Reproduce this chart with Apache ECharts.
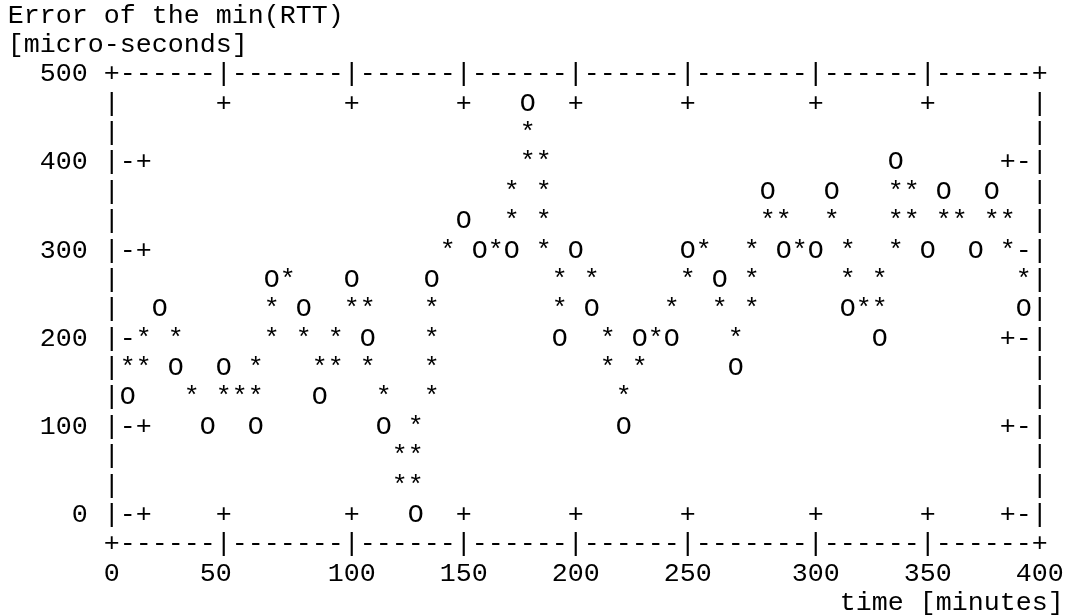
<!DOCTYPE html>
<html>
<head>
<meta charset="utf-8">
<title>Error of the min(RTT)</title>
<script src="https://cdn.jsdelivr.net/npm/echarts@6/dist/echarts.min.js"></script>
<style>
  html, body { margin: 0; padding: 0; background: #fff; }
  #chart { width: 1065px; height: 616px; }
</style>
</head>
<body>
<div id="chart"></div>
<script>
// sample times [minutes]
var times = [10, 20, 30, 40, 50, 60, 70, 80, 90, 100, 110, 120, 130, 140, 150, 160, 170, 180, 190, 200,
             210, 220, 230, 240, 250, 260, 270, 280, 290, 300, 310, 320, 330, 340, 350, 360, 370, 380, 390];
// error of the min(RTT) at each sample [micro-seconds]  ('O' marks)
var rttError = [133, 233, 167, 100, 167, 100, 267, 233, 133, 267, 200, 100, 0, 267, 333, 300, 300, 467, 200, 300,
                233, 100, 200, 200, 300, 267, 167, 367, 300, 300, 367, 233, 200, 400, 300, 367, 300, 367, 233];
// '*' characters of the connecting line [minutes, micro-seconds]
var lineMarks = [
  [7, 167], [14, 167], [14, 200], [28, 200], [34, 133], [48, 133], [55, 133], [62, 133], [62, 167],
  [69, 200], [69, 233], [76, 267], [83, 200], [90, 167], [97, 167], [97, 200], [103, 233], [110, 233],
  [110, 167], [117, 133], [124, 67], [124, 33], [131, 33], [131, 67], [131, 100], [138, 133], [138, 167],
  [138, 200], [138, 233], [145, 300], [166, 300], [172, 333], [172, 367], [179, 400], [179, 433],
  [186, 400], [186, 367], [186, 333], [186, 300], [193, 267], [193, 233], [207, 267], [214, 200],
  [214, 167], [221, 133], [228, 167], [234, 200], [241, 233], [248, 267], [255, 300], [262, 233],
  [269, 200], [276, 233], [276, 267], [276, 300], [283, 333], [290, 333], [297, 300], [310, 333],
  [317, 300], [317, 267], [324, 233], [331, 233], [331, 267], [338, 300], [338, 333], [338, 367],
  [345, 367], [345, 333], [359, 333], [366, 333], [379, 333], [386, 333], [386, 300], [393, 267]
];
// ticks
var xTicks = [0, 50, 100, 150, 200, 250, 300, 350, 400];
var xTickLabels = ['0', '50', '100', '150', '200', '250', '300', '350', '400'];
var yTicks = [0, 100, 200, 300, 400, 500];
var yTickLabels = ['0', '100', '200', '300', '400', '500'];

var yTitle = ['Error of the min(RTT)', '[micro-seconds]'];
var xTitle = 'time [minutes]';

// text terminal look: everything sits on a grid of character cells
var COLS = 58, ROWS = 16;
var CELL_W = 16, CELL_H = 29.37;
var GRID_LEFT = 111.7, GRID_TOP = 74.3;
var FONT_SIZE = 26.67;
var FONT_FAMILY = '"Liberation Mono", "Courier New", monospace';
var FONT = FONT_SIZE + 'px ' + FONT_FAMILY;
var INK = '#000';

var xMax = 400, yMax = 500;
// the bottom border is one text row below 0
var yMin = yMax - ROWS * 100 / 3;

// x ticks land on whole character columns, like the text terminal
function snapX(v) { return Math.round(v * COLS / xMax) * xMax / COLS; }

function nearest(list, v) {
  var best = 0;
  for (var i = 1; i < list.length; i++) {
    if (Math.abs(list[i] - v) < Math.abs(list[best] - v)) best = i;
  }
  return best;
}

function toCell(cs, p) {
  var cw = cs.width / COLS, rh = cs.height / ROWS;
  return [Math.round((p[0] - cs.x) / cw), Math.round((p[1] - cs.y) / rh)];
}

function charAt(cs, c, r, ch) {
  var cw = cs.width / COLS, rh = cs.height / ROWS;
  return {
    type: 'text',
    x: cs.x + c * cw,
    y: cs.y + r * rh,
    style: { text: ch, fill: INK, font: FONT, align: 'center', verticalAlign: 'middle' }
  };
}

function glyph(ch) {
  return function (params, api) {
    var cs = params.coordSys;
    var cell = toCell(cs, api.coord([api.value(0), api.value(1)]));
    return charAt(cs, cell[0], cell[1], ch);
  };
}

// border and tick marks, drawn as characters; data characters overwrite them
function frame(params, api) {
  var cs = params.coordSys;
  var cells = {};
  function put(c, r, ch) { cells[c + ',' + r] = ch; }
  var c, r;
  for (c = 0; c <= COLS; c++) { put(c, 0, '-'); put(c, ROWS, '-'); }
  for (r = 1; r < ROWS; r++) { put(0, r, '|'); put(COLS, r, '|'); }
  put(0, 0, '+'); put(COLS, 0, '+'); put(0, ROWS, '+'); put(COLS, ROWS, '+');

  xTicks.forEach(function (v) {
    var k = toCell(cs, api.coord([v, yMin]))[0];
    if (k > 0 && k < COLS) {
      put(k, 0, '|'); put(k, 1, '+');
      put(k, ROWS, '|'); put(k, ROWS - 1, '+');
    }
  });
  yTicks.forEach(function (v) {
    var k = toCell(cs, api.coord([0, v]))[1];
    if (k > 0 && k < ROWS) {
      put(1, k, '-'); put(2, k, '+');
      put(COLS - 2, k, '+'); put(COLS - 1, k, '-');
    }
  });

  times.forEach(function (t, i) {
    var q = toCell(cs, api.coord([t, rttError[i]]));
    delete cells[q[0] + ',' + q[1]];
  });
  lineMarks.forEach(function (m) {
    var q = toCell(cs, api.coord(m));
    delete cells[q[0] + ',' + q[1]];
  });

  var children = [];
  Object.keys(cells).forEach(function (key) {
    var p = key.split(',');
    children.push(charAt(cs, +p[0], +p[1], cells[key]));
  });
  return { type: 'group', children: children };
}

var chart = echarts.init(document.getElementById('chart'), null, { renderer: 'canvas' });

var titleStyle = { fontFamily: FONT_FAMILY, fontSize: FONT_SIZE, fontWeight: 'normal', color: INK, lineHeight: CELL_H };

chart.setOption({
  backgroundColor: '#fff',
  animation: false,
  title: [
    {
      text: yTitle.join('\n'),
      left: GRID_LEFT - 6 * CELL_W - CELL_W / 2,
      top: GRID_TOP - 2 * CELL_H - CELL_H / 2,
      padding: 0,
      textStyle: titleStyle
    },
    {
      text: xTitle,
      right: 1065 - (GRID_LEFT + 59 * CELL_W + CELL_W / 2),
      top: GRID_TOP + 18 * CELL_H - CELL_H / 2,
      padding: 0,
      textStyle: titleStyle
    }
  ],
  grid: {
    left: GRID_LEFT,
    top: GRID_TOP,
    width: COLS * CELL_W,
    height: ROWS * CELL_H,
    outerBoundsMode: 'none'
  },
  xAxis: {
    type: 'value',
    min: 0,
    max: xMax,
    axisLine: { show: false },
    axisTick: { show: false },
    splitLine: { show: false },
    axisLabel: {
      customValues: xTicks.map(snapX),
      formatter: function (v) {
        var s = xTickLabels[nearest(xTicks.map(snapX), v)];
        return s.length % 2 === 0 ? s + ' ' : s;
      },
      margin: CELL_H,
      verticalAlign: 'middle',
      fontFamily: FONT_FAMILY, fontSize: FONT_SIZE, color: INK
    }
  },
  yAxis: {
    type: 'value',
    min: yMin,
    max: yMax,
    axisLine: { show: false },
    axisTick: { show: false },
    splitLine: { show: false },
    axisLabel: {
      customValues: yTicks,
      formatter: function (v) { return yTickLabels[nearest(yTicks, v)]; },
      margin: 24,
      align: 'right',
      verticalAlign: 'middle',
      fontFamily: FONT_FAMILY, fontSize: FONT_SIZE, color: INK
    }
  },
  series: [
    {
      name: 'frame',
      type: 'custom',
      silent: true,
      z: 1,
      data: [[0, yMin]],
      renderItem: frame
    },
    {
      name: 'line',
      type: 'custom',
      silent: true,
      z: 2,
      data: lineMarks,
      renderItem: glyph('*')
    },
    {
      name: 'min(RTT) error',
      type: 'custom',
      silent: true,
      z: 3,
      data: times.map(function (t, i) { return [t, rttError[i]]; }),
      renderItem: glyph('O')
    }
  ]
});
</script>
</body>
</html>
